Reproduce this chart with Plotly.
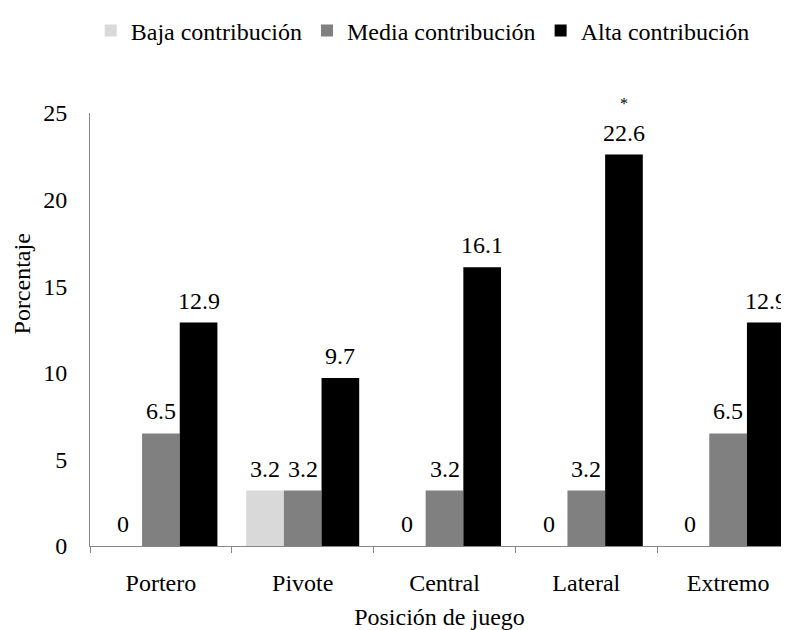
import plotly.graph_objects as go

categories = ["Portero", "Pivote", "Central", "Lateral", "Extremo"]
series_names = ["Baja contribución", "Media contribución", "Alta contribución"]
baja = [0, 3.2, 0, 0, 0]
media = [6.5, 3.2, 3.2, 3.2, 6.5]
alta = [12.9, 9.7, 16.1, 22.6, 12.9]
colors = ["#d9d9d9", "#808080", "#000000"]
y_ticks = [0, 5, 10, 15, 20, 25]
star_category = "Lateral"

FONT = "Liberation Serif"
FS = 24
# the page adds an 8px body margin, so the figure is sized to fill the window
W, H = 781, 622
ML, MR, MT, MB = 82, 0, 95, 84
bargap = 0.203
cat_px = 141.8
plot_w = W - ML - MR
plot_h = H - MT - MB
x_range = [-0.5, -0.5 + plot_w / cat_px]

series = [baja, media, alta]
fig = go.Figure()
for name, vals, col in zip(series_names, series, colors):
    fig.add_trace(go.Bar(
        x=categories, y=vals, name=name,
        marker=dict(color=col, line=dict(width=0)),
    ))

# data labels
w = (1 - bargap) / len(series)
annotations = []
for j, vals in enumerate(series):
    off = (j - (len(series) - 1) / 2) * w
    for i, v in enumerate(vals):
        annotations.append(dict(
            x=i + off, y=v, xref="x", yref="y",
            text=f"{v:g}", showarrow=False,
            yanchor="bottom", yshift=7,
            font=dict(family=FONT, size=FS, color="#000"),
        ))

# asterisk above Lateral - Alta
si = categories.index(star_category)
annotations.append(dict(
    x=si + w, y=alta[si], xref="x", yref="y",
    text="*", showarrow=False, yanchor="bottom", yshift=41,
    font=dict(family=FONT, size=16, color="#000"),
))

# y-axis title
annotations.append(dict(
    x=-(ML - 14) / plot_w, y=0.604, xref="paper", yref="paper",
    text="Porcentaje", textangle=-90, showarrow=False,
    xanchor="center", yanchor="middle",
    font=dict(family=FONT, size=FS, color="#000"),
))

fig.update_layout(
    width=W, height=H,
    margin=dict(l=ML, r=MR, t=MT, b=MB, pad=0),
    paper_bgcolor="white", plot_bgcolor="white",
    barmode="group", bargap=bargap, bargroupgap=0,
    font=dict(family=FONT, size=FS, color="#000"),
    showlegend=True,
    legend=dict(
        orientation="h", x=0.476, xanchor="center",
        y=1 + (MT - 11) / plot_h, yanchor="middle",
        font=dict(family=FONT, size=FS, color="#000"),
        itemwidth=30, traceorder="normal",
    ),
    annotations=annotations,
    xaxis=dict(
        range=x_range, showgrid=False, zeroline=False,
        showline=True, linecolor="#868686", linewidth=1,
        ticks="outside", tickson="boundaries", ticklen=6,
        tickcolor="#868686", ticklabelstandoff=15,
        tickfont=dict(family=FONT, size=FS, color="#000"),
        title=dict(text="Posición de juego", standoff=17,
                   font=dict(family=FONT, size=FS, color="#000")),
        fixedrange=True,
    ),
    yaxis=dict(
        range=[0, 25], tickvals=y_ticks, showgrid=False, zeroline=False,
        showline=True, linecolor="#868686", linewidth=1,
        ticks="", ticklabelstandoff=17,
        tickfont=dict(family=FONT, size=FS, color="#000"),
        fixedrange=True,
    ),
)

fig.write_html("out.html")
